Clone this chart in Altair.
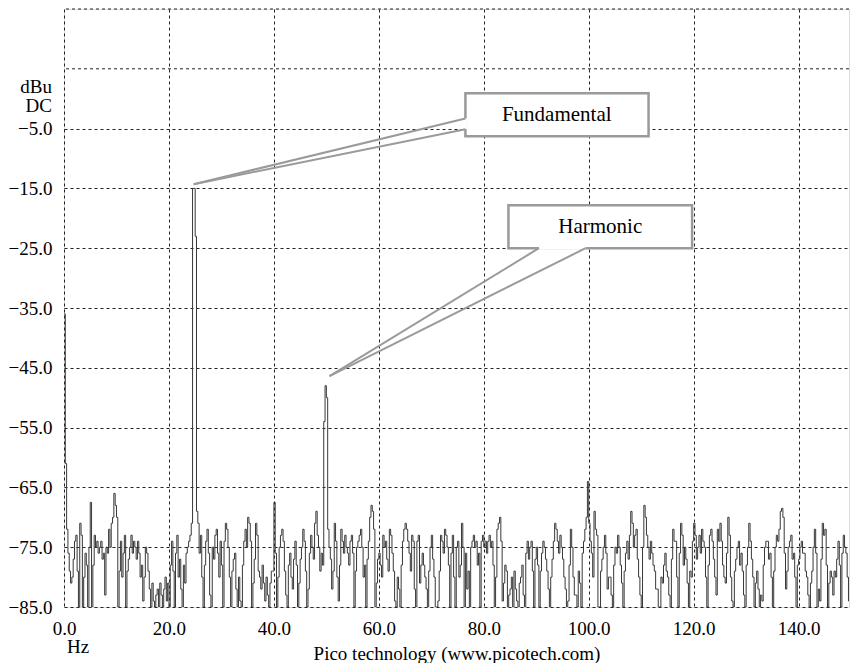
import altair as alt
import pandas as pd

# ---- spectrum data: level (dBu) per 0.25 Hz bin, starting at 0.0 Hz ----
bin_width_hz = 0.25
levels = [
    # 0-5 Hz
    -36, -61, -72, -76, -79, -81, -80, -77, -74, -73, -79, -85, -71, -73, -85, -80, -76, -78, -85, -75,
    # 5-10
    -67.5, -85, -78, -73, -75, -74, -76, -75, -74, -77, -76, -83, -75, -76, -72, -75, -71, -70, -66, -68,
    # 10-15
    -70, -85, -79, -74, -80, -76, -73, -85, -79, -77, -75, -73, -76, -74, -75, -77, -74, -76, -80, -78,
    # 15-20
    -84, -80, -75, -76, -79, -82, -85, -81, -84, -85, -83, -82, -85, -81, -83, -85, -82, -80, -84, -81,
    # 20-25
    -85, -78, -74, -79, -85, -76, -73, -80, -77, -82, -85, -78, -81, -76, -75, -74, -73, -71, -15, -15,
    # 25-30
    -23, -69, -71, -76, -73, -80, -85, -78, -74, -72, -76, -83, -85, -75, -77, -73, -72, -76, -80, -74,
    # 30-35
    -78, -85, -74, -71, -72, -75, -80, -85, -79, -77, -76, -82, -85, -80, -84, -85, -78, -74, -72, -75,
    # 35-40
    -70, -71, -74, -85, -81, -77, -71, -73, -79, -80, -82, -78, -81, -84, -80, -83, -85, -81, -79, -79,
    # 40-45
    -67.5, -76, -85, -80, -75, -73, -72, -74, -79, -83, -85, -78, -76, -80, -82, -77, -74, -78, -85, -81,
    # 45-50
    -77, -75, -72, -74, -79, -85, -82, -76, -73, -75, -77, -71, -69, -73, -75, -79, -76, -78, -54, -48,
    # 50-55
    -50, -72, -75, -77, -82, -79, -71, -74, -80, -84, -78, -72, -74, -76, -73, -75, -76, -78, -74, -73,
    # 55-60
    -76, -85, -79, -75, -74, -73, -72, -75, -80, -78, -85, -77, -74, -70, -68, -69, -72, -85, -81, -77,
    # 60-65
    -76, -78, -80, -73, -75, -74, -77, -79, -72, -73, -76, -79, -84, -85, -80, -82, -85, -78, -74, -72,
    # 65-70
    -71, -72, -74, -76, -79, -73, -74, -82, -85, -74, -73, -81, -78, -76, -78, -80, -82, -85, -79, -75,
    # 70-75
    -73, -77, -80, -85, -85, -84, -79, -73, -74, -76, -72, -73, -75, -78, -85, -76, -73, -80, -85, -75,
    # 75-80
    -74, -80, -78, -71, -75, -85, -76, -82, -79, -85, -75, -74, -73, -75, -74, -78, -76, -85, -74, -73,
    # 80-85
    -75, -74, -76, -74, -73, -75, -74, -78, -85, -80, -72, -71, -70, -74, -84, -81, -78, -79, -85, -83,
    # 85-90
    -82, -80, -85, -79, -82, -84, -85, -81, -80, -78, -83, -85, -76, -74, -77, -75, -74, -79, -85, -77,
    # 90-95
    -75, -78, -85, -79, -76, -74, -75, -77, -79, -82, -85, -80, -77, -74, -71, -72, -74, -76, -73, -75,
    # 95-100
    -77, -80, -82, -85, -84, -78, -72, -75, -80, -83, -83, -85, -79, -81, -85, -76, -74, -72, -70, -64,
    # 100-105
    -71, -74, -76, -80, -69, -72, -73, -85, -85, -79, -77, -75, -73, -76, -82, -80, -80, -83, -85, -78,
    # 105-110
    -75, -76, -73, -75, -78, -81, -85, -79, -76, -74, -77, -73, -69, -71, -75, -73, -72, -77, -80, -83,
    # 110-115
    -85, -75, -68, -70, -73, -75, -77, -74, -76, -78, -79, -82, -82, -85, -85, -80, -81, -78, -76, -79,
    # 115-120
    -80, -83, -85, -77, -72, -74, -74, -80, -85, -76, -71, -73, -78, -75, -77, -81, -85, -79, -80, -74,
    # 120-125
    -71, -73, -77, -75, -73, -76, -72, -74, -75, -80, -85, -78, -73, -72, -74, -77, -80, -83, -72, -74,
    # 125-130
    -71, -74, -78, -80, -81, -76, -70, -73, -80, -84, -85, -79, -77, -75, -74, -78, -76, -79, -83, -85,
    # 130-135
    -78, -75, -71, -74, -77, -80, -85, -81, -79, -82, -85, -83, -84, -78, -75, -74, -74, -77, -76, -80,
    # 135-140
    -85, -79, -75, -73, -74, -72, -69, -68.5, -70, -76, -82, -79, -75, -74, -73, -77, -76, -80, -85, -78,
    # 140-145
    -77, -75, -74, -76, -76, -79, -80, -83, -85, -81, -79, -75, -72, -76, -85, -82, -84, -77, -71, -73,
    # 145-150
    -72, -78, -85, -81, -79, -80, -83, -79, -80, -77, -74, -78, -85, -76, -73, -75, -76, -80, -84, -77,
    # 150-151
    -72, -74, -77,
]
freqs = [i * bin_width_hz for i in range(len(levels))]

# ---- axes ----
x_ticks = [0, 20, 40, 60, 80, 100, 120, 140]
y_ticks = [-85, -75, -65, -55, -45, -35, -25, -15, -5]
y_extra_grid = [5, 15]
x_domain = [0, 149.6]
y_domain = [-85, 15]

# ---- callouts (data coordinates) ----
callout_names = ["Fundamental", "Harmonic"]
box_x1 = [76.5, 84.7]
box_x2 = [111.4, 119.7]
box_y1 = [0.9, -17.8]
box_y2 = [-6.3, -25.0]
text_x = [93.9, 102.2]
text_y = [-2.7, -21.4]
lead_x1 = [76.5, 76.5, 90.5, 99.4]
lead_y1 = [-3.3, -5.1, -25.0, -25.0]
lead_x2 = [24.7, 24.7, 50.6, 50.6]
lead_y2 = [-14.3, -14.3, -46.4, -46.4]
gap_x1 = [76.5, 90.5]
gap_y1 = [-3.3, -25.0]
gap_x2 = [76.5, 99.4]
gap_y2 = [-5.1, -25.0]

unit_lines = ["dBu", "DC"]
unit_py = [78, 97]

FONT = "Liberation Serif"
GRID = dict(grid=True, gridDash=[3, 3], gridColor="#222", gridWidth=1)

spec_df = pd.DataFrame({"f": freqs, "v": levels})
box_df = pd.DataFrame({"name": callout_names, "x1": box_x1, "x2": box_x2,
                       "y1": box_y1, "y2": box_y2, "tx": text_x, "ty": text_y})
lead_df = pd.DataFrame({"x1": lead_x1, "y1": lead_y1, "x2": lead_x2, "y2": lead_y2})
gap_df = pd.DataFrame({"x1": gap_x1, "y1": gap_y1, "x2": gap_x2, "y2": gap_y2})
grid_df = pd.DataFrame({"g": y_extra_grid})
unit_df = pd.DataFrame({"t": unit_lines, "py": unit_py})

minus_expr = "replace(format(datum.value, '.1f'), '-', '\u2212')"

xscale = alt.Scale(domain=x_domain, nice=False, zero=False)
yscale = alt.Scale(domain=y_domain, nice=False, zero=False)

trace = alt.Chart(spec_df).mark_line(
    interpolate="step-after", color="#383838", strokeWidth=1, clip=True
).encode(
    x=alt.X("f:Q", scale=xscale, axis=alt.Axis(
        values=x_ticks, format=".1f", title="Pico technology (www.picotech.com)",
        labelFont=FONT, labelFontSize=19, labelColor="black", labelPadding=12,
        labelFlush=False, titleFont=FONT, titleFontSize=19, titleFontWeight="normal",
        titleColor="black", titlePadding=6, domain=False, ticks=False, **GRID)),
    y=alt.Y("v:Q", scale=yscale, axis=alt.Axis(
        values=y_ticks, labelExpr=minus_expr, title=None,
        labelFont=FONT, labelFontSize=19, labelColor="black", labelPadding=12,
        domain=False, ticks=False, **GRID)),
)

extra_grid = alt.Chart(grid_df).mark_rule(
    strokeDash=[3, 3], color="#222", strokeWidth=1
).encode(y="g:Q")

boxes = alt.Chart(box_df).mark_rect(
    fill="white", stroke="#9a9a9a", strokeWidth=2.5
).encode(x="x1:Q", x2="x2:Q", y="y1:Q", y2="y2:Q")

gaps = alt.Chart(gap_df).mark_rule(color="white", strokeWidth=3).encode(
    x="x1:Q", y="y1:Q", x2="x2:Q", y2="y2:Q")

leaders = alt.Chart(lead_df).mark_rule(color="#9a9a9a", strokeWidth=2).encode(
    x="x1:Q", y="y1:Q", x2="x2:Q", y2="y2:Q")

box_text = alt.Chart(box_df).mark_text(
    font=FONT, fontSize=21, color="black", align="center", baseline="middle"
).encode(x="tx:Q", y="ty:Q", text="name:N")

unit_text = alt.Chart(unit_df).mark_text(
    font=FONT, fontSize=19, color="black", align="right", baseline="middle"
).encode(x=alt.value(-12), y=alt.Y("py:Q", scale=None), text="t:N")

hz_df = pd.DataFrame({"t": ["Hz"]})
hz_text = alt.Chart(hz_df).mark_text(
    font=FONT, fontSize=19, color="black", align="center", baseline="middle"
).encode(x=alt.value(14), y=alt.value(638), text="t:N")

chart = alt.layer(extra_grid, trace, boxes, gaps, leaders, box_text, unit_text, hz_text).properties(
    width=842, height=655, padding=0,
    autosize=alt.AutoSizeParams(type="fit", contains="padding"),
).configure_view(stroke=None).configure(background="white")

chart.save("out.html", embed_options={"renderer": "svg", "actions": False})
